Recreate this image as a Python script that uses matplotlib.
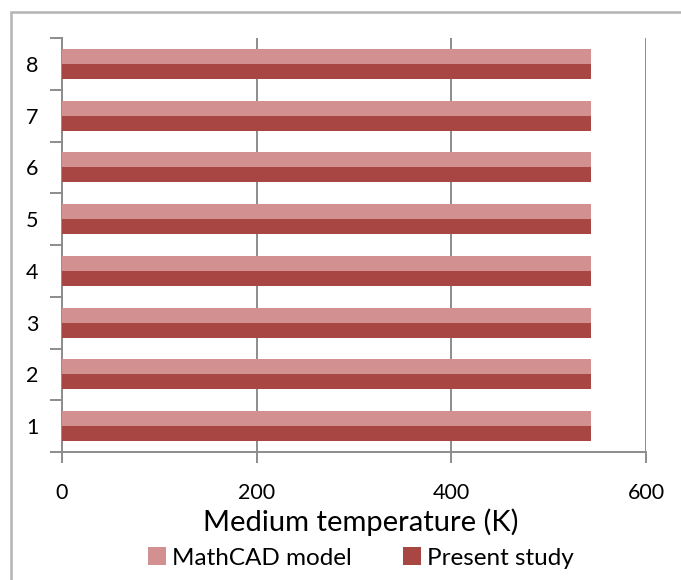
import matplotlib
matplotlib.use("Agg")
import matplotlib.pyplot as plt
import numpy as np
from matplotlib.patches import Rectangle

plt.rcParams['font.family'] = ['Lato', 'DejaVu Sans']

# medium temperature per case (K)
cases = ['1', '2', '3', '4', '5', '6', '7', '8']
mathcad_model = [543, 543, 543, 543, 543, 543, 543, 543]
present_study = [543, 543, 543, 543, 543, 543, 543, 543]
x_ticks = [0, 200, 400, 600]

light = '#D29190'
dark = '#A84644'
grey = '#8C8C8C'

fig = plt.figure(figsize=(6.81, 5.80), dpi=100)
ax = fig.add_axes([62 / 681, 1 - 452 / 580, (646 - 62) / 681, (452 - 38) / 580])

# outer chart frame
fig.patches.append(Rectangle((11 / 681, -0.05), 1.2, 1 - 12 / 580 + 0.05,
                             transform=fig.transFigure, fill=False,
                             edgecolor='#B4B4B4', linewidth=1.8))

pos = np.arange(1, len(cases) + 1)
h = 0.29
ax.barh(pos + h / 2, mathcad_model, height=h, color=light, label='MathCAD model', zorder=3)
ax.barh(pos - h / 2, present_study, height=h, color=dark, label='Present study', zorder=3)

ax.set_xlim(0, 600)
ax.set_ylim(0.5, len(cases) + 0.5)
ax.set_xticks(x_ticks)
ax.set_xticklabels([str(t) for t in x_ticks], fontsize=15.5)
ax.xaxis.grid(True, color=grey, linewidth=1.4, zorder=0)

# ticks on the category boundaries, labels in between
ax.set_yticks(np.arange(0.5, len(cases) + 1, 1.0))
ax.set_yticklabels([])
ax.set_yticks(pos, minor=True)
ax.set_yticklabels(cases, minor=True, fontsize=15.5)
ax.tick_params(axis='y', which='major', length=9, width=1.4, color=grey, direction='out')
ax.tick_params(axis='y', which='minor', length=0, pad=17)
ax.tick_params(axis='x', length=8, width=1.4, color=grey, direction='out', pad=14)

for side in ('top', 'right'):
    ax.spines[side].set_visible(False)
for side in ('left', 'bottom'):
    ax.spines[side].set_color(grey)
    ax.spines[side].set_linewidth(1.4)

ax.set_xlabel('Medium temperature (K)', fontsize=21, va='center')
ax.xaxis.set_label_coords(361 / 681, 1 - 522 / 580, transform=fig.transFigure)

fig.legend(loc='center', bbox_to_anchor=(361 / 681, 1 - 558 / 580), ncol=2,
           frameon=False, fontsize=17.5, handlelength=0.75, handleheight=0.75,
           handletextpad=0.25, columnspacing=2.1, borderpad=0)

fig.savefig('out.png', dpi=100)
